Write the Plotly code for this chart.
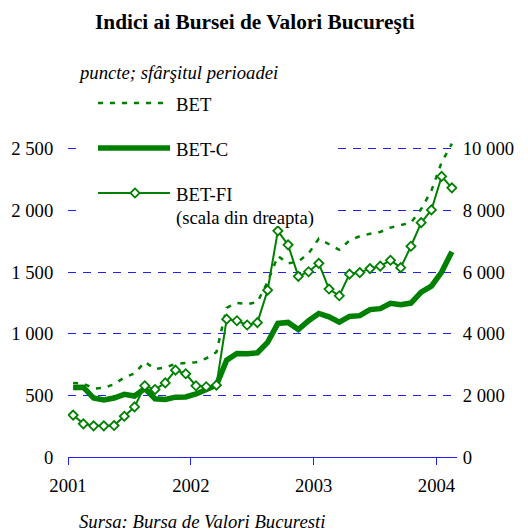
import numpy as np
import plotly.graph_objects as go

# ---- data (monthly, end of period, Jan 2001 - Feb 2004) ----
years = ["2001", "2002", "2003", "2004"]
BET = [601, 596, 555, 560, 590, 645, 677, 771, 714, 726, 755, 760, 768, 800, 850,
       1210, 1250, 1240, 1256, 1420, 1630, 1570, 1585, 1650, 1770, 1725, 1680, 1756,
       1790, 1810, 1825, 1860, 1880, 1900, 2010, 2160, 2390, 2540]
BET_C = [564, 566, 478, 463, 478, 508, 494, 555, 472, 466, 485, 487, 511, 542, 582,
         785, 840, 838, 845, 930, 1083, 1091, 1034, 1105, 1164, 1137, 1094, 1140,
         1146, 1195, 1203, 1246, 1235, 1248, 1337, 1386, 1500, 1665]
BET_FI = [1360, 1075, 1010, 1010, 1020, 1322, 1624, 2310, 2189, 2404, 2816, 2700, 2310,
          2280, 2330, 4470, 4420, 4280, 4360, 5410, 7335, 6880, 5860, 6009, 6281, 5447,
          5229, 5930, 5980, 6110, 6190, 6380, 6140, 6835, 7600, 8013, 9100, 8730]
left_ticks = [0, 500, 1000, 1500, 2000, 2500, 3000]
left_labels = ["0", "500", "1 000", "1 500", "2 000", "2 500", ""]
right_ticks = [0, 2000, 4000, 6000, 8000, 10000]
right_labels = ["0", "2 000", "4 000", "6 000", "8 000", "10 000"]

n = len(BET)
x = np.arange(n) + 0.5          # category centres (months)
year_pos = [12 * i for i in range(len(years))]

GREEN = "#008000"
BLUE = "#2020FF"
FONT = "Liberation Serif"
FS = 18.7

W, H = 528, 532
L, R, T, B = 68, 71, 87, 75
PW, PH = W - L - R, H - T - B


def px_x(p):
    return (p - L) / PW


def px_y(p):
    return (H - B - p) / PH


fig = go.Figure()
fig.add_trace(go.Scatter(x=x, y=BET, mode="lines", name="BET",
                         line=dict(color=GREEN, width=2.5, dash="5px,7px"),
                         showlegend=False))
fig.add_trace(go.Scatter(x=x, y=BET_C, mode="lines", name="BET-C",
                         line=dict(color=GREEN, width=5.5), showlegend=False))
fig.add_trace(go.Scatter(x=x, y=BET_FI, mode="lines+markers", name="BET-FI",
                         yaxis="y2",
                         line=dict(color=GREEN, width=2),
                         marker=dict(symbol="diamond", size=7, color="white",
                                     line=dict(color=GREEN, width=1.8)),
                         showlegend=False))

annotations = [
    dict(text="<b>Indici ai Bursei de Valori Bucureşti</b>", x=px_x(255), y=px_y(22),
         xanchor="center", yanchor="middle", font=dict(size=21.3)),
    dict(text="<i>puncte; sfârşitul perioadei</i>", x=px_x(76), y=px_y(73),
         xanchor="left", yanchor="middle", font=dict(size=FS)),
    dict(text="BET", x=px_x(174), y=px_y(105), xanchor="left", yanchor="middle"),
    dict(text="BET-C", x=px_x(174), y=px_y(149), xanchor="left", yanchor="middle"),
    dict(text="BET-FI", x=px_x(174), y=px_y(194), xanchor="left", yanchor="middle"),
    dict(text="(scala din dreapta)", x=px_x(174), y=px_y(218), xanchor="left",
         yanchor="middle"),
    dict(text="<i>Sursa: Bursa de Valori Bucuresti</i>", x=px_x(77), y=px_y(521),
         xanchor="left", yanchor="middle"),
]
for a in annotations:
    a.update(xref="paper", yref="paper", showarrow=False)
    size = a.get("font", {}).get("size", FS)
    a["font"] = dict(family=FONT, color="black", size=size)

shapes = [
    # white legend box hiding the gridlines behind the legend
    dict(type="rect", xref="paper", yref="paper", layer="above",
         x0=px_x(78), x1=px_x(331), y0=px_y(226), y1=px_y(92),
         fillcolor="white", line=dict(width=0)),
    dict(type="line", xref="paper", yref="paper", layer="above",
         x0=px_x(98), x1=px_x(170), y0=px_y(103), y1=px_y(103),
         line=dict(color=GREEN, width=2.5, dash="5px,7px")),
    dict(type="line", xref="paper", yref="paper", layer="above",
         x0=px_x(98), x1=px_x(170), y0=px_y(148), y1=px_y(148),
         line=dict(color=GREEN, width=5.5)),
    dict(type="line", xref="paper", yref="paper", layer="above",
         x0=px_x(98), x1=px_x(170), y0=px_y(193), y1=px_y(193),
         line=dict(color=GREEN, width=2)),
    dict(type="path", xref="paper", yref="paper", layer="above",
         xsizemode="pixel", ysizemode="pixel",
         xanchor=px_x(135), yanchor=px_y(193),
         path="M -4.6 0 L 0 4.6 L 4.6 0 L 0 -4.6 Z",
         fillcolor="white", line=dict(color=GREEN, width=1.8)),
]

fig.update_layout(
    width=W, height=H, autosize=False,
    margin=dict(l=L, r=R, t=T, b=B, pad=0),
    paper_bgcolor="white", plot_bgcolor="white",
    font=dict(family=FONT, size=FS, color="black"),
    showlegend=False,
    annotations=annotations,
    shapes=shapes,
    xaxis=dict(range=[0, n], tickvals=year_pos, ticktext=years, automargin=False,
               showline=True, linecolor=BLUE, linewidth=1,
               ticks="outside", ticklen=7, tickcolor=BLUE, tickwidth=1,
               ticklabelstandoff=5,
               showgrid=False, zeroline=False,
               tickfont=dict(family=FONT, size=FS, color="black")),
    yaxis=dict(range=[0, 3000], tickvals=left_ticks, ticktext=left_labels,
               automargin=False,
               showgrid=True, gridcolor=BLUE, gridwidth=1, griddash="8px,7px",
               zeroline=False, showline=False,
               ticks="outside", ticklen=10, tickcolor="rgba(0,0,0,0)",
               tickfont=dict(family=FONT, size=FS, color="black")),
    yaxis2=dict(range=[0, 12000], tickvals=right_ticks, ticktext=right_labels,
                overlaying="y", side="right", automargin=False,
                showgrid=False, zeroline=False, showline=False,
                ticks="outside", ticklen=1, tickcolor="rgba(0,0,0,0)",
                tickfont=dict(family=FONT, size=FS, color="black")),
)

fig.write_html("out.html", config={"displayModeBar": False},
               post_script="document.body.style.margin='0px';")
